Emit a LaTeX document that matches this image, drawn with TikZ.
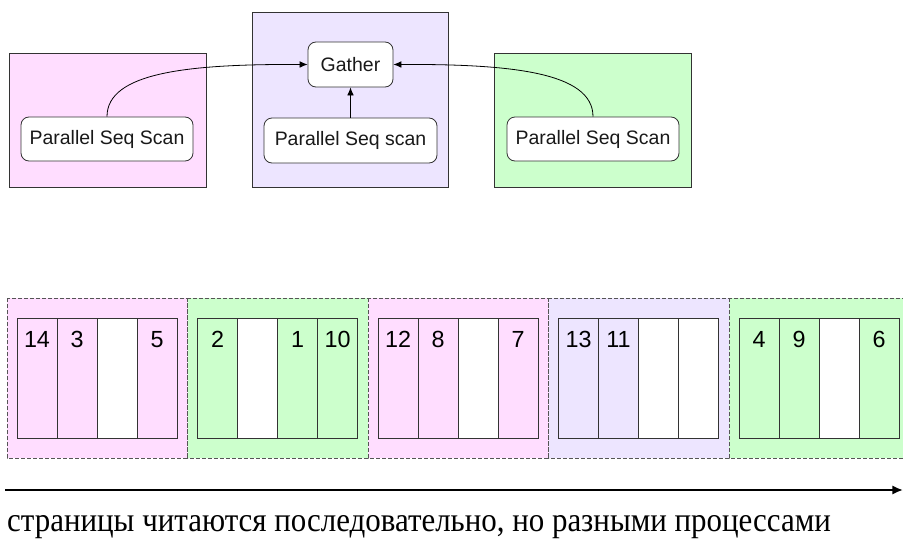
\documentclass[tikz,border=0pt]{standalone}
\usepackage{fontspec}
\setmainfont{Liberation Sans}
\newfontfamily\rusfont{Liberation Serif}
\usetikzlibrary{arrows.meta}
\definecolor{cpink}{HTML}{FFDDFF}
\definecolor{clav}{HTML}{EDE5FF}
\definecolor{cgreen}{HTML}{CCFFCC}
\definecolor{cline}{HTML}{333333}
\definecolor{cdash}{HTML}{555555}
\tikzset{
  procbox/.style={draw=cline, line width=0.75pt},
  opnode/.style={draw=cline, fill=white, rounded corners=6pt, line width=0.6pt, inner sep=0pt,
    font=\fontsize{14.6}{17}\selectfont, text=black!90},
  grp/.style={draw=cdash, dash pattern=on 3pt off 1.5pt, line width=0.6pt},
  cell/.style={draw=cline, line width=0.75pt},
  num/.style={font=\fontsize{17.5}{20}\selectfont, anchor=base, inner sep=0pt},
  flow/.style={-{Latex[length=6pt,width=5pt]}, line width=0.6pt, black},
}
\begin{document}
\begin{tikzpicture}[x=0.75pt,y=-0.75pt]
\useasboundingbox (0,0) rectangle (903,539);
% process boxes
\draw[procbox, fill=cpink] (9,53) rectangle (206,187);
\draw[procbox, fill=clav] (252,12) rectangle (448,187);
\draw[procbox, fill=cgreen] (494,53) rectangle (691,187);
% nodes
\node[opnode, minimum width=63.75pt, minimum height=33.75pt] (gather) at (350.5,64.5) {Gather};
\node[opnode, minimum width=129pt, minimum height=33pt] (lscan) at (107,139) {Parallel Seq Scan};
\node[opnode, minimum width=129.75pt, minimum height=33.75pt] (mscan) at (350.5,140.5) {Parallel Seq scan};
\node[opnode, minimum width=129pt, minimum height=33pt] (rscan) at (593,139) {Parallel Seq Scan};
% connectors
\draw[flow] (lscan.north) .. controls (107,72) and (190,64) .. (gather.west);
\draw[flow] (rscan.north) .. controls (593,72) and (510,64) .. (gather.east);
\draw[flow] (mscan.north) -- (gather.south);
% page groups
\begin{scope}
\clip (0,0) rectangle (903,539);
\foreach \i/\c in {0/cpink,1/cgreen,2/cpink,3/clav,4/cgreen}{
  \fill[\c] (7+180.5*\i,298) rectangle (7+180.5*\i+180.5,458);
  \draw[grp] (7+180.5*\i,298) rectangle (7+180.5*\i+180.5,458);
}
\foreach \i/\j/\c/\t in {
  0/0/cpink/14, 0/1/cpink/3, 0/2/white/, 0/3/cpink/5,
  1/0/cgreen/2, 1/1/white/, 1/2/cgreen/1, 1/3/cgreen/10,
  2/0/cpink/12, 2/1/cpink/8, 2/2/white/, 2/3/cpink/7,
  3/0/clav/13, 3/1/clav/11, 3/2/white/, 3/3/white/,
  4/0/cgreen/4, 4/1/cgreen/9, 4/2/white/, 4/3/cgreen/6}{
  \draw[cell, fill=\c] (17+180.5*\i+40*\j,318) rectangle (57+180.5*\i+40*\j,438);
  \node[num] (n\i\j) at (37+180.5*\i+40*\j,347) {\t};
}
\end{scope}
% time arrow
\coordinate (tstart) at (5,490);
\coordinate (tend) at (903,490);
\draw[-{Latex[length=8pt,width=7pt]}, line width=1.5pt, black] (tstart) -- (tend);
\node[anchor=base west, inner sep=0pt, xscale=0.91, font=\rusfont\fontsize{25.5}{30}\selectfont] (caption) at (7,531) {страницы читаются последовательно, но разными процессами};
\end{tikzpicture}
\end{document}
